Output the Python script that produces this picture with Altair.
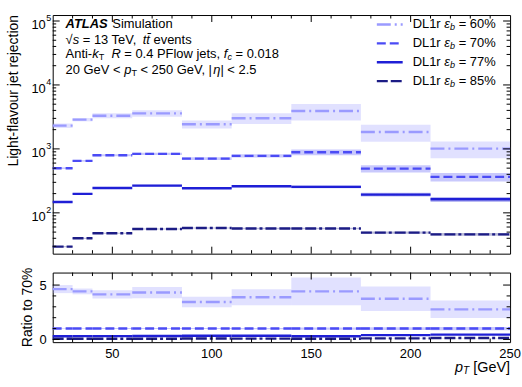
import altair as alt
import pandas as pd

# ---------------- data ----------------
bin_lo = [20, 30, 40, 60, 85, 110, 140, 175, 210]
bin_hi = [30, 40, 60, 85, 110, 140, 175, 210, 250]
wp_names = ["60%", "70%", "77%", "85%"]
rej_60 = [2310, 2870, 3300, 3600, 2430, 3020, 3920, 1840, 1010]
rej_70 = [499, 650, 796, 835, 705, 778, 887, 492, 365]
rej_77 = [148, 198, 245, 267, 243, 261, 255, 193, 163]
rej_85 = [29.6, 40, 48, 56, 58, 57, 57, 49, 46]
unc_60 = [0.08, 0.06, 0.09, 0.12, 0.14, 0.19, 0.29, 0.30, 0.29]
unc_70 = [0.03, 0.03, 0.04, 0.04, 0.05, 0.06, 0.10, 0.13, 0.15]
unc_77 = [0.02, 0.02, 0.02, 0.03, 0.03, 0.04, 0.05, 0.07, 0.09]
unc_85 = [0.02, 0.02, 0.02, 0.02, 0.02, 0.03, 0.03, 0.04, 0.05]
x_tick_labels = [50, 100, 150, 200, 250]
y_decades = [100, 1000, 10000, 100000]
y_exponents = ["2", "3", "4", "5"]
ratio_tick_labels = [0, 5]

colors = ["#9a9aff", "#4b4bf5", "#1f1fd6", "#1c1c85"]
dashes = [[14, 4, 2, 4], [9, 4], [1, 0], [11, 3, 11, 3, 3, 3]]

# ---------------- table ----------------
rej = [rej_60, rej_70, rej_77, rej_85]
unc = [unc_60, unc_70, unc_77, unc_85]
rows = []
for w, vals, errs in zip(wp_names, rej, unc):
    for i in range(len(bin_lo)):
        v = vals[i]
        e = errs[i]
        r = v / rej_70[i]
        rows.append(dict(wp=w, lo=bin_lo[i], hi=bin_hi[i], val=v,
                         vlo=v * (1 - e), vhi=v * (1 + e),
                         ratio=r, rlo=r * (1 - e), rhi=r * (1 + e)))
df = pd.DataFrame(rows)
one = pd.DataFrame({"k": [0]})

W, H1, H2 = 460, 240, 70
FONT = "Liberation Sans"

xs = alt.Scale(domain=[20, 250], nice=False, zero=False)
ys = alt.Scale(type="log", domain=[23, 124000], nice=False)
rs = alt.Scale(domain=[-0.25, 6.15], nice=False, zero=False)
cs = alt.Scale(domain=wp_names, range=colors)
ds = alt.Scale(domain=wp_names, range=dashes)

# ---------------- helpers ----------------
AW = {' ': 278, '%': 889, ',': 278, '-': 333, '.': 278, '<': 584, '=': 584,
      '[': 278, ']': 278, '|': 260, 'A': 667, 'D': 722, 'F': 611, 'G': 778,
      'L': 556, 'P': 667, 'R': 722, 'S': 667, 'T': 611, 'V': 667, 'a': 556,
      'b': 556, 'c': 500, 'e': 556, 'f': 278, 'i': 222, 'j': 222, 'k': 500,
      'l': 222, 'm': 833, 'n': 556, 'o': 556, 'p': 556, 'r': 333, 's': 500,
      't': 278, 'u': 556, 'v': 500, 'w': 722, 'η': 556, 'ε': 450, '√': 549,
      '\u0304': 0}
for d in "0123456789":
    AW[d] = 556
BW = {'A': 722, 'T': 611, 'L': 611, 'S': 667}


def tw(s, bold=False):
    tot = 0
    for ch in s:
        if bold and ch in BW:
            tot += BW[ch]
        else:
            tot += AW.get(ch, 556)
    return tot / 1000.0


def run(pieces, x0, y, size, anchor="left"):
    sizes = []
    total = 0
    for txt, st in pieces:
        fs = size * 0.7 if st in ("sub", "subi") else size
        sizes.append(fs)
        total += tw(txt, st == "bi") * fs
    x = x0 if anchor == "left" else x0 - total
    out = []
    for (txt, st), fs in zip(pieces, sizes):
        lead = len(txt) - len(txt.lstrip(" "))
        trail = len(txt) - len(txt.rstrip(" "))
        core = txt.strip(" ")
        x += lead * 0.278 * fs
        if core:
            kw = dict(text=core, fontSize=fs, align="left",
                      baseline="middle", color="black", font=FONT)
            if st in ("i", "subi", "bi"):
                kw["fontStyle"] = "italic"
            if st == "bi":
                kw["fontWeight"] = "bold"
            dy = 3 if st in ("sub", "subi") else 0
            out.append(alt.Chart(one).mark_text(dy=dy, **kw).encode(
                x=alt.value(x), y=alt.value(y)))
            x += tw(core, st == "bi") * fs
        x += trail * 0.278 * fs
    return out


def xticks(H, vals, L):
    d = pd.DataFrame({"v": vals})
    base = alt.Chart(d).mark_rule(color="black", strokeWidth=1)
    return [
        base.encode(x=alt.X("v:Q", scale=xs, axis=None), y=alt.value(H), y2=alt.value(H - L)),
        base.encode(x=alt.X("v:Q", scale=xs, axis=None), y=alt.value(0), y2=alt.value(L)),
    ]


def yticks(scale, vals, L):
    d = pd.DataFrame({"v": vals})
    base = alt.Chart(d).mark_rule(color="black", strokeWidth=1)
    return [
        base.encode(y=alt.Y("v:Q", scale=scale, axis=None), x=alt.value(0), x2=alt.value(L)),
        base.encode(y=alt.Y("v:Q", scale=scale, axis=None), x=alt.value(W), x2=alt.value(W - L)),
    ]


x_major = [50, 100, 150, 200]
x_minor = [v for v in range(30, 250, 10) if v not in x_major]
y_minor = []
for dec in [10, 100, 1000, 10000]:
    for k in range(2, 10):
        v = k * dec
        if 23 < v < 124000:
            y_minor.append(v)

# ---------------- top panel ----------------
bands = alt.Chart(df).mark_rect(opacity=0.3, strokeWidth=0).encode(
    x=alt.X("lo:Q", scale=xs, axis=None), x2="hi:Q",
    y=alt.Y("vlo:Q", scale=ys, axis=None), y2="vhi:Q",
    color=alt.Color("wp:N", scale=cs, legend=None))
lines = alt.Chart(df).mark_rule(strokeWidth=2.4).encode(
    x=alt.X("lo:Q", scale=xs, axis=None), x2="hi:Q",
    y=alt.Y("val:Q", scale=ys, axis=None),
    color=alt.Color("wp:N", scale=cs, legend=None),
    strokeDash=alt.StrokeDash("wp:N", scale=ds, legend=None))

dec_df = pd.DataFrame({"v": y_decades, "e": y_exponents})
ylab10 = alt.Chart(dec_df).mark_text(text="10", align="right", baseline="middle",
                                      fontSize=13, dy=4, font=FONT).encode(
    x=alt.value(-7), y=alt.Y("v:Q", scale=ys, axis=None))
ylabexp = alt.Chart(dec_df).mark_text(align="left", baseline="middle",
                                       fontSize=9, dy=-3, font=FONT).encode(
    x=alt.value(-6.5), y=alt.Y("v:Q", scale=ys, axis=None), text="e:N")
ytitle = alt.Chart(one).mark_text(text="Light-flavour jet rejection", angle=270,
                                   align="right", baseline="middle", fontSize=14,
                                   font=FONT).encode(x=alt.value(-39), y=alt.value(0))

AS = 13
annot = []
annot += run([("ATLAS", "bi"), (" Simulation", "n")], 13, 9, AS)
annot += run([("√", "n"), ("s", "i"), (" = 13 TeV, ", "n"), ("tt\u0304", "i"),
              (" events", "n")], 13, 25, AS)
annot += run([("Anti-", "n"), ("k", "i"), ("T", "sub"), (" ", "n"), ("R", "i"),
              (" = 0.4 PFlow jets, ", "n"), ("f", "i"), ("c", "subi"),
              (" = 0.018", "n")], 13, 39.5, AS)
annot += run([("20 GeV < ", "n"), ("p", "i"), ("T", "sub"),
              (" < 250 GeV, |", "n"), ("η", "i"), ("| < 2.5", "n")], 13, 55, AS)

legend = []
for j, w in enumerate(wp_names):
    ly = 9.5 + 19 * j
    legend.append(alt.Chart(one).mark_rule(strokeWidth=2.4, color=colors[j],
                                           strokeDash=dashes[j]).encode(
        x=alt.value(326), x2=alt.value(352), y=alt.value(ly)))
    legend += run([("DL1r ", "n"), ("ε", "i"), ("b", "subi"), (" = " + w, "n")],
                  362, ly, 13)

bound_top = alt.Chart(one).mark_rect(opacity=0).encode(
    x=alt.value(-52), x2=alt.value(470), y=alt.value(-13), y2=alt.value(H1))

top_layers = [bands, lines]
top_layers += xticks(H1, x_major, 7) + xticks(H1, x_minor, 3.5)
top_layers += yticks(ys, y_decades, 7) + yticks(ys, y_minor, 3.5)
top_layers += [ylab10, ylabexp, ytitle] + annot + legend + [bound_top]
top = alt.layer(*top_layers).properties(width=W, height=H1)

# ---------------- ratio panel ----------------
rbands = alt.Chart(df).mark_rect(opacity=0.3, strokeWidth=0).encode(
    x=alt.X("lo:Q", scale=xs, axis=None), x2="hi:Q",
    y=alt.Y("rlo:Q", scale=rs, axis=None), y2="rhi:Q",
    color=alt.Color("wp:N", scale=cs, legend=None))
rlines = alt.Chart(df).mark_rule(strokeWidth=2.4).encode(
    x=alt.X("lo:Q", scale=xs, axis=None), x2="hi:Q",
    y=alt.Y("ratio:Q", scale=rs, axis=None),
    color=alt.Color("wp:N", scale=cs, legend=None),
    strokeDash=alt.StrokeDash("wp:N", scale=ds, legend=None))

xl_df = pd.DataFrame({"v": x_tick_labels, "t": [str(v) for v in x_tick_labels]})
xlabs = alt.Chart(xl_df).mark_text(fontSize=13, baseline="middle", align="center",
                                    font=FONT).encode(
    x=alt.X("v:Q", scale=xs, axis=None), y=alt.value(H2 + 11.5), text="t:N")
rl_df = pd.DataFrame({"v": ratio_tick_labels, "t": [str(v) for v in ratio_tick_labels]})
rlabs = alt.Chart(rl_df).mark_text(fontSize=13, baseline="middle", align="right",
                                    dy=1, font=FONT).encode(
    x=alt.value(-6), y=alt.Y("v:Q", scale=rs, axis=None), text="t:N")
rtitle = alt.Chart(one).mark_text(text="Ratio to 70%", angle=270, align="center",
                                   baseline="middle", fontSize=14, font=FONT).encode(
    x=alt.value(-25), y=alt.value(35))
xtitle = run([("p", "i"), ("T", "subi"), (" [GeV]", "n")], W, 96, 14.5, anchor="right")

bound_bot = alt.Chart(one).mark_rect(opacity=0).encode(
    x=alt.value(-52), x2=alt.value(470), y=alt.value(0), y2=alt.value(115))

bot_layers = [rbands, rlines]
bot_layers += xticks(H2, x_major, 7) + xticks(H2, x_minor, 3.5)
bot_layers += yticks(rs, [0, 5], 7) + yticks(rs, [1, 2, 3, 4], 3.5)
bot_layers += [xlabs, rlabs, rtitle] + xtitle + [bound_bot]
bottom = alt.layer(*bot_layers).properties(width=W, height=H2)

chart = alt.vconcat(top, bottom, spacing=19, bounds="flush").properties(
    padding=0
).configure(font=FONT).configure_view(stroke="black", strokeWidth=1)

chart.save("out.html", embed_options={"renderer": "svg", "actions": False})
